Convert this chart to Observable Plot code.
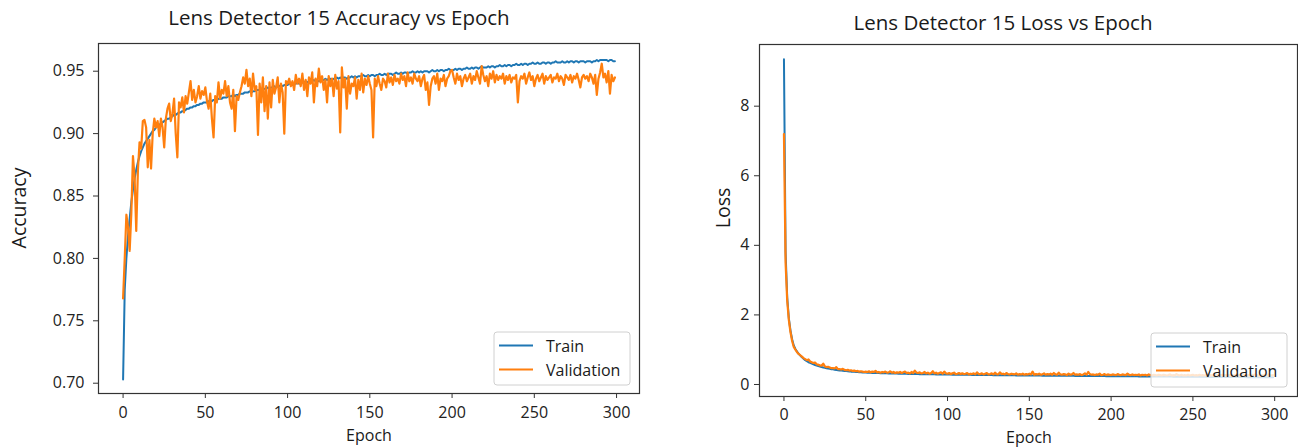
<!DOCTYPE html>
<html>
<head>
<meta charset="utf-8">
<script src="https://cdn.jsdelivr.net/npm/d3@7"></script>
<script src="https://cdn.jsdelivr.net/npm/@observablehq/plot@0.6"></script>
<style>
  body { margin: 0; background: #fff; }
  #wrap { position: relative; width: 1298px; height: 447px; overflow: hidden; font-family: "Open Sans", sans-serif; }
  .panel { position: absolute; top: 0; }
  #overlay { position: absolute; left: 0; top: 0; }
  #overlay text { font-family: "Open Sans", sans-serif; fill: #1a1a1a; }
</style>
</head>
<body>
<div id="wrap">
  <div class="panel" id="left" style="left:0px"></div>
  <div class="panel" id="right" style="left:649px"></div>
  <svg id="overlay" width="1298" height="447"></svg>
</div>
<script>
// ---------- data ----------
const xTicks = [0, 50, 100, 150, 200, 250, 300];
const accTicks = [0.70, 0.75, 0.80, 0.85, 0.90, 0.95];
const lossTicks = [0, 2, 4, 6, 8];
const seriesNames = ["Train", "Validation"];
const seriesColors = ["#1f77b4", "#ff7f0e"];
const titles = ["Lens Detector 15 Accuracy vs Epoch", "Lens Detector 15 Loss vs Epoch"];
const yLabels = ["Accuracy", "Loss"];
const xLabel = "Epoch";

const trainAcc = [
0.703,0.775,0.800,0.818,0.832,0.845,0.855,0.864,0.871,0.877,
0.882,0.886,0.889,0.892,0.894,0.896,0.898,0.900,0.902,0.903,
0.905,0.906,0.907,0.908,0.909,0.910,0.911,0.912,0.912,0.913,
0.914,0.915,0.915,0.916,0.917,0.917,0.918,0.918,0.919,0.920,
0.920,0.921,0.921,0.922,0.922,0.923,0.923,0.924,0.924,0.925,
0.925,0.925,0.926,0.926,0.926,0.927,0.927,0.927,0.928,0.928,
0.928,0.929,0.929,0.929,0.930,0.930,0.930,0.931,0.930,0.931,
0.931,0.932,0.932,0.932,0.933,0.933,0.933,0.934,0.933,0.934,
0.934,0.935,0.935,0.935,0.936,0.935,0.936,0.936,0.937,0.936,
0.937,0.937,0.938,0.937,0.938,0.938,0.939,0.938,0.939,0.939,
0.939,0.940,0.940,0.939,0.940,0.940,0.941,0.940,0.941,0.941,
0.941,0.942,0.941,0.942,0.942,0.942,0.943,0.942,0.943,0.942,
0.943,0.943,0.943,0.944,0.943,0.944,0.944,0.943,0.944,0.944,
0.945,0.944,0.945,0.944,0.945,0.945,0.944,0.945,0.945,0.946,
0.945,0.946,0.945,0.946,0.946,0.946,0.947,0.946,0.946,0.947,
0.946,0.947,0.947,0.946,0.947,0.947,0.948,0.947,0.947,0.948,
0.947,0.948,0.948,0.948,0.947,0.948,0.949,0.948,0.948,0.949,
0.948,0.949,0.949,0.948,0.949,0.949,0.950,0.949,0.949,0.950,
0.949,0.950,0.949,0.950,0.950,0.950,0.949,0.950,0.951,0.950,
0.950,0.951,0.950,0.951,0.951,0.950,0.951,0.951,0.952,0.951,
0.951,0.951,0.952,0.951,0.952,0.952,0.951,0.952,0.952,0.953,
0.952,0.952,0.953,0.952,0.953,0.953,0.952,0.953,0.954,0.953,
0.953,0.953,0.954,0.953,0.954,0.954,0.953,0.954,0.954,0.955,
0.954,0.954,0.955,0.954,0.955,0.955,0.954,0.955,0.955,0.956,
0.955,0.955,0.956,0.955,0.956,0.956,0.955,0.956,0.956,0.957,
0.956,0.956,0.957,0.956,0.956,0.957,0.957,0.956,0.957,0.957,
0.956,0.957,0.957,0.958,0.957,0.957,0.957,0.958,0.957,0.957,
0.958,0.957,0.958,0.958,0.957,0.958,0.958,0.957,0.958,0.958,
0.958,0.957,0.958,0.958,0.958,0.957,0.958,0.958,0.959,0.958,
0.959,0.959,0.959,0.959,0.959,0.958,0.959,0.959,0.958,0.958
];

const valAcc = [
0.768,0.800,0.835,0.825,0.806,0.836,0.882,0.865,0.822,0.870,
0.893,0.888,0.910,0.911,0.905,0.873,0.895,0.872,0.900,0.912,
0.905,0.910,0.898,0.912,0.905,0.889,0.912,0.920,0.924,0.910,
0.916,0.928,0.900,0.881,0.925,0.921,0.929,0.917,0.930,0.924,
0.933,0.942,0.927,0.935,0.925,0.930,0.938,0.928,0.934,0.931,
0.937,0.926,0.920,0.932,0.912,0.897,0.930,0.925,0.941,0.928,
0.935,0.932,0.942,0.930,0.938,0.925,0.920,0.935,0.902,0.930,
0.927,0.933,0.938,0.945,0.940,0.951,0.938,0.944,0.930,0.948,
0.935,0.938,0.899,0.940,0.925,0.945,0.918,0.938,0.912,0.941,
0.921,0.943,0.932,0.937,0.945,0.925,0.940,0.933,0.900,0.942,
0.940,0.944,0.938,0.942,0.935,0.947,0.940,0.944,0.938,0.948,
0.935,0.943,0.930,0.945,0.940,0.949,0.925,0.944,0.938,0.952,
0.941,0.946,0.935,0.943,0.925,0.946,0.938,0.944,0.930,0.947,
0.936,0.942,0.901,0.953,0.937,0.944,0.920,0.946,0.932,0.940,
0.938,0.945,0.928,0.943,0.935,0.948,0.933,0.944,0.939,0.946,
0.940,0.935,0.897,0.944,0.938,0.946,0.940,0.935,0.944,0.942,
0.937,0.948,0.941,0.945,0.939,0.947,0.942,0.944,0.940,0.948,
0.943,0.946,0.938,0.949,0.942,0.945,0.940,0.948,0.944,0.942,
0.946,0.938,0.944,0.947,0.935,0.941,0.923,0.938,0.944,0.946,
0.940,0.948,0.935,0.944,0.942,0.947,0.938,0.944,0.946,0.950,
0.951,0.945,0.940,0.948,0.943,0.946,0.938,0.944,0.947,0.942,
0.945,0.948,0.940,0.946,0.943,0.950,0.945,0.940,0.954,0.947,
0.942,0.946,0.938,0.948,0.944,0.950,0.941,0.947,0.943,0.946,
0.944,0.948,0.940,0.946,0.943,0.947,0.941,0.945,0.944,0.947,
0.925,0.942,0.946,0.944,0.948,0.940,0.945,0.949,0.943,0.946,
0.938,0.944,0.947,0.942,0.945,0.948,0.940,0.946,0.943,0.945,
0.947,0.941,0.945,0.944,0.948,0.942,0.946,0.944,0.939,0.947,
0.945,0.943,0.947,0.941,0.946,0.944,0.948,0.943,0.937,0.945,
0.947,0.944,0.946,0.942,0.948,0.945,0.940,0.947,0.931,0.944,
0.949,0.956,0.945,0.948,0.941,0.950,0.932,0.947,0.942,0.945
];

const trainLoss = [
9.35,3.80,2.50,1.90,1.55,1.30,1.12,1.02,0.95,0.88,
0.83,0.78,0.74,0.70,0.67,0.64,0.62,0.60,0.58,0.56,
0.545,0.53,0.515,0.50,0.49,0.48,0.47,0.46,0.45,0.44,
0.435,0.425,0.42,0.41,0.405,0.40,0.395,0.39,0.385,0.38,
0.375,0.37,0.368,0.363,0.36,0.356,0.353,0.35,0.347,0.344,
0.342,0.340,0.338,0.336,0.334,0.333,0.331,0.329,0.328,0.326,
0.325,0.323,0.322,0.320,0.319,0.318,0.316,0.315,0.314,0.313,
0.311,0.310,0.309,0.308,0.307,0.306,0.305,0.304,0.303,0.302,
0.301,0.300,0.299,0.298,0.297,0.296,0.296,0.295,0.294,0.293,
0.292,0.292,0.291,0.290,0.289,0.289,0.288,0.287,0.287,0.286,
0.285,0.285,0.284,0.283,0.283,0.282,0.281,0.281,0.280,0.280,
0.279,0.278,0.278,0.277,0.277,0.276,0.276,0.275,0.274,0.274,
0.273,0.273,0.272,0.272,0.271,0.271,0.270,0.270,0.269,0.269,
0.268,0.268,0.267,0.267,0.266,0.266,0.265,0.265,0.264,0.264,
0.263,0.263,0.262,0.262,0.262,0.261,0.261,0.260,0.260,0.259,
0.259,0.258,0.258,0.258,0.257,0.257,0.256,0.256,0.255,0.255,
0.255,0.254,0.254,0.253,0.253,0.253,0.252,0.252,0.251,0.251,
0.251,0.250,0.250,0.249,0.249,0.249,0.248,0.248,0.247,0.247,
0.247,0.246,0.246,0.245,0.245,0.245,0.244,0.244,0.244,0.243,
0.243,0.242,0.242,0.242,0.241,0.241,0.241,0.240,0.240,0.240,
0.239,0.239,0.238,0.238,0.238,0.237,0.237,0.237,0.236,0.236,
0.236,0.235,0.235,0.235,0.234,0.234,0.234,0.233,0.233,0.233,
0.232,0.232,0.232,0.231,0.231,0.231,0.230,0.230,0.230,0.229,
0.229,0.229,0.228,0.228,0.228,0.227,0.227,0.227,0.226,0.226,
0.226,0.225,0.225,0.225,0.224,0.224,0.224,0.223,0.223,0.223,
0.222,0.222,0.222,0.221,0.221,0.221,0.220,0.220,0.220,0.219,
0.219,0.219,0.218,0.218,0.218,0.217,0.217,0.217,0.216,0.216,
0.216,0.215,0.215,0.215,0.214,0.214,0.214,0.213,0.213,0.213,
0.212,0.212,0.212,0.211,0.211,0.211,0.210,0.210,0.210,0.209,
0.209,0.209,0.208,0.208,0.208,0.207,0.207,0.207,0.206,0.206
];

const valLoss = [
7.20,3.50,2.40,1.85,1.50,1.25,1.08,1.00,0.93,0.88,
0.84,0.80,0.76,0.73,0.70,0.72,0.66,0.64,0.62,0.63,
0.58,0.57,0.55,0.54,0.60,0.52,0.50,0.51,0.49,0.47,
0.47,0.46,0.50,0.44,0.44,0.43,0.45,0.42,0.41,0.42,
0.40,0.41,0.39,0.40,0.38,0.39,0.37,0.38,0.37,0.36,
0.37,0.36,0.38,0.35,0.37,0.36,0.39,0.35,0.36,0.34,
0.36,0.35,0.37,0.34,0.35,0.38,0.34,0.36,0.33,0.35,
0.34,0.36,0.33,0.35,0.37,0.33,0.34,0.32,0.36,0.33,
0.40,0.34,0.33,0.35,0.32,0.33,0.36,0.32,0.34,0.31,
0.33,0.38,0.32,0.34,0.31,0.33,0.35,0.31,0.37,0.32,
0.31,0.33,0.30,0.32,0.34,0.30,0.31,0.33,0.30,0.32,
0.30,0.31,0.33,0.29,0.31,0.30,0.32,0.29,0.35,0.30,
0.30,0.32,0.29,0.31,0.33,0.29,0.30,0.32,0.29,0.34,
0.30,0.29,0.35,0.30,0.31,0.29,0.33,0.30,0.29,0.31,
0.30,0.29,0.32,0.28,0.30,0.29,0.31,0.28,0.30,0.29,
0.31,0.29,0.37,0.28,0.30,0.29,0.31,0.28,0.29,0.32,
0.28,0.30,0.29,0.31,0.28,0.33,0.29,0.28,0.34,0.29,
0.28,0.30,0.29,0.27,0.31,0.28,0.29,0.33,0.28,0.29,
0.28,0.30,0.27,0.29,0.32,0.28,0.36,0.30,0.28,0.29,
0.27,0.29,0.28,0.31,0.27,0.28,0.30,0.27,0.29,0.28,
0.27,0.29,0.28,0.27,0.30,0.28,0.27,0.29,0.28,0.27,
0.31,0.28,0.27,0.29,0.27,0.28,0.27,0.29,0.26,0.28,
0.27,0.28,0.26,0.29,0.27,0.26,0.28,0.27,0.26,0.28,
0.27,0.26,0.28,0.27,0.26,0.27,0.29,0.26,0.27,0.26,
0.30,0.27,0.26,0.28,0.26,0.27,0.26,0.28,0.26,0.27,
0.28,0.26,0.27,0.26,0.28,0.26,0.27,0.26,0.27,0.28,
0.26,0.27,0.26,0.28,0.26,0.27,0.26,0.27,0.28,0.26,
0.27,0.26,0.28,0.26,0.27,0.26,0.27,0.28,0.26,0.27,
0.26,0.27,0.28,0.26,0.27,0.26,0.28,0.27,0.29,0.27,
0.26,0.25,0.27,0.26,0.28,0.26,0.29,0.27,0.26,0.27
];

// ---------- charts ----------
const axisColor = "#333";
function makePanel({train, val, yDomain, yTicks, yFormat, margins, yPad, xPad}) {
  return Plot.plot({
    width: 649,
    height: 447,
    marginTop: margins[0], marginRight: margins[1], marginBottom: margins[2], marginLeft: margins[3],
    style: { fontFamily: "Open Sans, sans-serif", fontSize: "16px", color: "#222", background: "transparent", overflow: "visible" },
    x: { domain: [-14.95, 313.95] },
    y: { domain: yDomain },
    marks: [
      Plot.axisX({ ticks: xTicks, tickSize: 5, tickPadding: xPad, label: null, stroke: axisColor, fontSize: 16 }),
      Plot.axisY({ ticks: yTicks, tickFormat: yFormat, tickSize: 5, tickPadding: yPad, label: null, stroke: axisColor, fontSize: 16 }),
      Plot.line(train, { x: (d, i) => i, y: d => d, stroke: seriesColors[0], strokeWidth: 2 }),
      Plot.line(val, { x: (d, i) => i, y: d => d, stroke: seriesColors[1], strokeWidth: 2.2 }),
      Plot.frame({ stroke: axisColor, strokeWidth: 1.2 })
    ]
  });
}

document.getElementById("left").append(makePanel({
  train: trainAcc, val: valAcc,
  yDomain: [0.69175, 0.9722], yTicks: accTicks, yFormat: d3.format(".2f"),
  margins: [43, 10, 54, 98], yPad: 9, xPad: 8
}));
document.getElementById("right").append(makePanel({
  train: trainLoss, val: valLoss,
  yDomain: [-0.345, 9.773], yTicks: lossTicks, yFormat: d3.format("d"),
  margins: [44, 1, 51, 110], yPad: 5, xPad: 7
}));

// ---------- titles, axis labels, legends ----------
const ov = d3.select("#overlay");
const titleSpecs = [ {x: 339, y: 25, t: titles[0]}, {x: 1003, y: 30, t: titles[1]} ];
titleSpecs.forEach(s => ov.append("text").attr("x", s.x).attr("y", s.y).attr("text-anchor", "middle")
  .attr("font-size", 20.5).text(s.t));
[{x: 369, y: 440.5}, {x: 1029, y: 442.5}].forEach(s => ov.append("text").attr("x", s.x).attr("y", s.y)
  .attr("text-anchor", "middle").attr("font-size", 16).text(xLabel));
[{x: 26, y: 208, t: yLabels[0]}, {x: 730, y: 208, t: yLabels[1]}].forEach(s => ov.append("text")
  .attr("transform", `translate(${s.x},${s.y}) rotate(-90)`).attr("text-anchor", "middle")
  .attr("font-size", 19.5).text(s.t));

const legendSpecs = [ {x: 494, y: 332, w: 136, h: 53}, {x: 1151, y: 333, w: 136, h: 54} ];
legendSpecs.forEach(L => {
  const g = ov.append("g").attr("transform", `translate(${L.x},${L.y})`);
  g.append("rect").attr("width", L.w).attr("height", L.h).attr("rx", 3)
    .attr("fill", "rgba(255,255,255,0.8)").attr("stroke", "#d0d0d0").attr("stroke-width", 1);
  seriesNames.forEach((name, i) => {
    const cy = 13.5 + i * 24;
    g.append("line").attr("x1", 5).attr("x2", 39).attr("y1", cy).attr("y2", cy)
      .attr("stroke", seriesColors[i]).attr("stroke-width", 2.2);
    g.append("text").attr("x", 52).attr("y", cy + 6).attr("font-size", 16).text(name);
  });
});
</script>
</body>
</html>
